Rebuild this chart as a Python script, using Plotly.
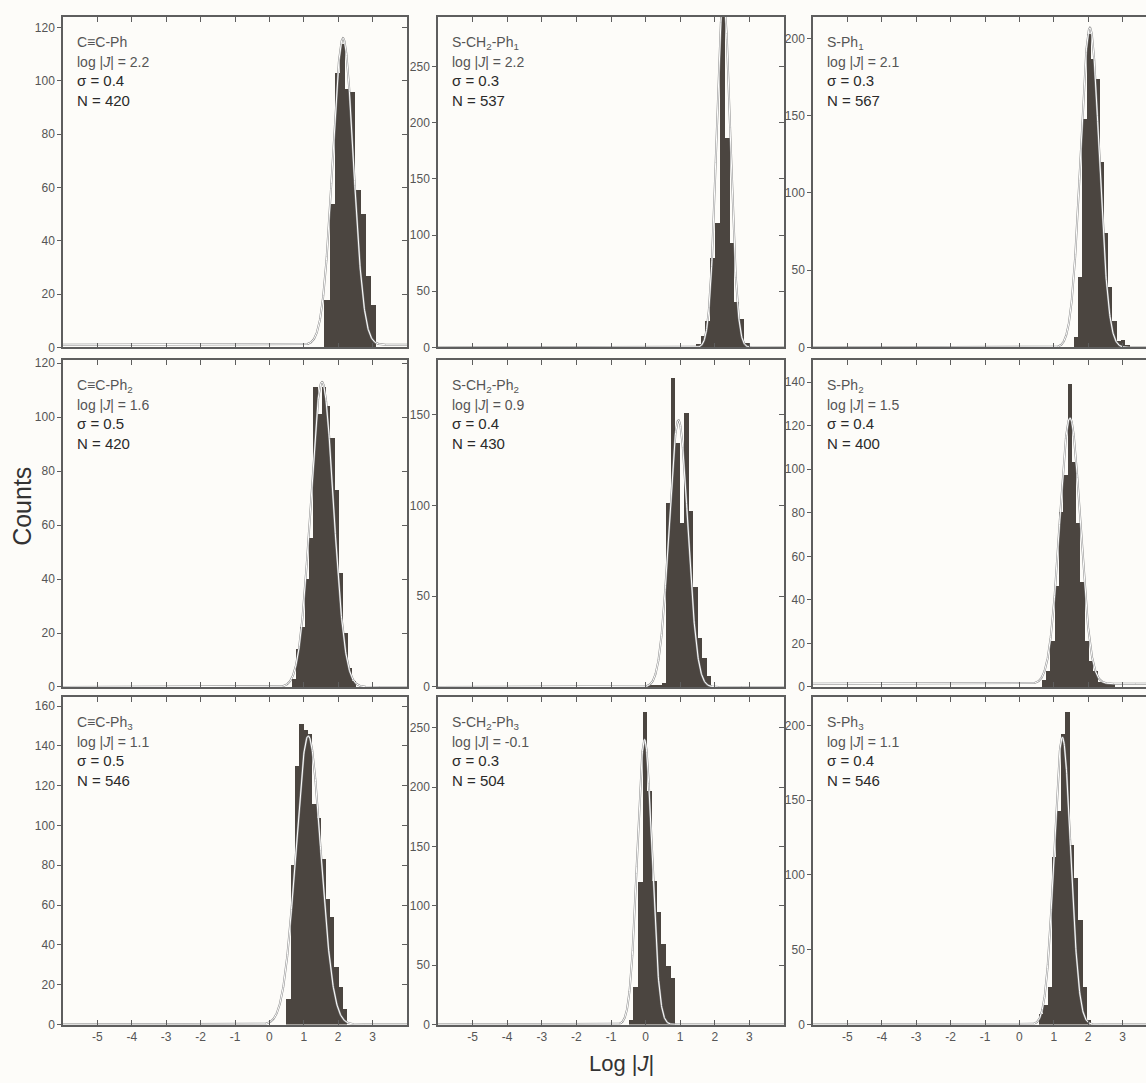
import numpy as np
import plotly.graph_objects as go

# ---------------- data ----------------
x_tick_vals = [-5, -4, -3, -2, -1, 0, 1, 2, 3]
x_tick_text = ["-5", "-4", "-3", "-2", "-1", "0", "1", "2", "3"]

panel_labels = ["C≡C-Ph", "S-CH<sub>2</sub>-Ph<sub>1</sub>", "S-Ph<sub>1</sub>",
                "C≡C-Ph<sub>2</sub>", "S-CH<sub>2</sub>-Ph<sub>2</sub>", "S-Ph<sub>2</sub>",
                "C≡C-Ph<sub>3</sub>", "S-CH<sub>2</sub>-Ph<sub>3</sub>", "S-Ph<sub>3</sub>"]
log_j = ["2.2", "2.2", "2.1", "1.6", "0.9", "1.5", "1.1", "-0.1", "1.1"]
sigma = ["0.4", "0.3", "0.3", "0.5", "0.4", "0.4", "0.5", "0.3", "0.4"]
n_mol = ["420", "537", "567", "420", "430", "400", "546", "504", "546"]

# histogram bins: left edge of first bin, bin width, counts
bin_start = [1.60, 1.447, 1.58, 0.65, 0.08, 0.65, 0.49, -0.49, 0.57]
bin_width = [0.15, 0.14, 0.125, 0.125, 0.13, 0.125, 0.127, 0.135, 0.127]
counts_1 = [18, 54, 103, 114, 97, 96, 59, 50, 27, 16]
counts_2 = [3, 10, 24, 80, 111, 310, 186, 93, 41, 25, 4]
counts_3 = [7, 46, 148, 203, 187, 174, 120, 74, 39, 17, 4, 5, 2]
counts_4 = [3, 14, 22, 40, 55, 111, 101, 111, 104, 92, 73, 42, 20, 7, 2]
counts_5 = [1, 1, 1, 2, 101, 170, 134, 90, 151, 97, 55, 27, 16, 6]
counts_6 = [3, 7, 21, 46, 80, 97, 139, 103, 75, 48, 21, 12, 7, 2, 2, 1, 1]
counts_7 = [13, 80, 130, 151, 148, 146, 111, 104, 83, 63, 54, 29, 19, 8]
counts_8 = [4, 32, 120, 263, 197, 121, 95, 68, 49, 39]
counts_9 = [7, 13, 25, 112, 143, 194, 209, 120, 98, 70, 25, 3]
all_counts = [counts_1, counts_2, counts_3, counts_4, counts_5,
              counts_6, counts_7, counts_8, counts_9]

# Gaussian fit curves
fit_center = [2.14, 2.25, 2.05, 1.53, 0.95, 1.47, 1.13, -0.03, 1.25]
fit_width = [0.30, 0.20, 0.27, 0.33, 0.27, 0.30, 0.36, 0.21, 0.24]
fit_height = [115, 310, 207, 113, 147, 122, 145, 240, 192]
fit_base = [1.0, 0, 0, 0, 0, 1.5, 0, 0, 0]

y_max = [124, 294, 214, 121, 180, 150, 164.6, 276, 219]
y_dtick = [20, 50, 50, 20, 50, 20, 20, 50, 50]

# ---------------- style ----------------
W, H = 1146, 1083
BAR = "#4b4540"
AX = "#5e5e5e"
TXT = "#555555"
FONT = "Arial, Liberation Sans, sans-serif"
BG = "#fdfcf9"

col_px = [(63, 407), (438, 784), (813, 1146)]
row_px = [(13, 347), (360, 690), (700, 1031)]
col_dom = [[a / W, b / W] for a, b in col_px]
row_dom = [[1 - b / H, 1 - a / H] for a, b in row_px]

fig = go.Figure()
layout = dict(width=W, height=H, margin=dict(l=0, r=0, t=0, b=0),
              paper_bgcolor=BG, plot_bgcolor=BG, showlegend=False,
              font=dict(family=FONT, color=TXT, size=12), bargap=0)
annotations = []
xg = np.linspace(-6, 4, 1201)
extra = 10
px_per_unit = (col_px[0][1] - col_px[0][0]) / 10.0

for i in range(9):
    r, c = divmod(i, 3)
    xs = "x" if i == 0 else f"x{i + 1}"
    ys = "y" if i == 0 else f"y{i + 1}"
    cnt = np.array(all_counts[i], dtype=float)
    centers = bin_start[i] + bin_width[i] * (np.arange(len(cnt)) + 0.5)
    fig.add_trace(go.Bar(x=centers, y=cnt, width=bin_width[i],
                         marker=dict(color=BAR, line=dict(width=0)),
                         xaxis=xs, yaxis=ys, hoverinfo="skip"))
    yfit = fit_base[i] + fit_height[i] * np.exp(-0.5 * ((xg - fit_center[i]) / fit_width[i]) ** 2)
    fig.add_trace(go.Scatter(x=xg, y=yfit, mode="lines",
                             line=dict(color="#8a8a8a", width=2.0),
                             xaxis=xs, yaxis=ys, hoverinfo="skip"))
    fig.add_trace(go.Scatter(x=xg, y=yfit, mode="lines",
                             line=dict(color="#ffffff", width=1.0),
                             xaxis=xs, yaxis=ys, hoverinfo="skip"))

    xr = [-6, 4] if c < 2 else [-6, -6 + (col_px[2][1] - col_px[2][0]) / px_per_unit]
    xk = "xaxis" if i == 0 else f"xaxis{i + 1}"
    yk = "yaxis" if i == 0 else f"yaxis{i + 1}"
    layout[xk] = dict(domain=col_dom[c], anchor=ys, range=xr,
                      tickmode="array", tickvals=x_tick_vals,
                      ticktext=x_tick_text,
                      showticklabels=(r == 2),
                      ticks="inside", ticklen=5, tickwidth=1, tickcolor=AX,
                      showline=True, linecolor=AX, linewidth=1.5, mirror="ticks",
                      showgrid=False, zeroline=False,
                      tickfont=dict(size=12, color=TXT, family=FONT))
    layout[yk] = dict(domain=row_dom[r], anchor=xs, range=[0, y_max[i]],
                      dtick=y_dtick[i], tick0=0,
                      ticks="outside", ticklen=4, tickwidth=1, tickcolor=AX,
                      showline=True, linecolor=AX, linewidth=1.5,
                      showgrid=False, zeroline=False,
                      tickfont=dict(size=12, color=TXT, family=FONT))
    if c < 2:
        yo = f"y{extra}"
        layout[f"yaxis{extra}"] = dict(overlaying=ys, anchor=xs, side="right",
                                       range=[0, y_max[i]], dtick=y_dtick[i], tick0=0,
                                       ticks="inside", ticklen=5, tickwidth=1, tickcolor=AX,
                                       showticklabels=False, showline=True,
                                       linecolor=AX, linewidth=1.5,
                                       showgrid=False, zeroline=False)
        fig.add_trace(go.Scatter(x=[0], y=[0], mode="markers", marker=dict(opacity=0),
                                 xaxis=xs, yaxis=yo, hoverinfo="skip"))
        extra += 1

    txt = (f"<span style='font-size:14px;color:#555555'>{panel_labels[i]}</span><br>"
           f"<span style='font-size:14px;color:#555555'>log |<i>J</i>| = {log_j[i]}</span><br>"
           f"σ = {sigma[i]}<br>N = {n_mol[i]}")
    annotations.append(dict(text=txt, xref=f"{xs} domain", yref=f"{ys} domain",
                            x=0.036, y=0.955, xanchor="left", yanchor="top",
                            align="left", showarrow=False,
                            font=dict(size=15, color="#2a2a2a", family=FONT)))

annotations.append(dict(text="Counts", xref="paper", yref="paper",
                        x=22 / W, y=1 - 508 / H, textangle=-90, showarrow=False,
                        xanchor="center", yanchor="middle",
                        font=dict(size=25, color="#333333", family=FONT)))
annotations.append(dict(text="Log |<i>J</i>|", xref="paper", yref="paper",
                        x=621 / W, y=1 - 1070 / H, showarrow=False,
                        xanchor="center", yanchor="middle",
                        font=dict(size=22, color="#333333", family=FONT)))
layout["annotations"] = annotations
fig.update_layout(**layout)

fig.write_html("out.html", config={"displayModeBar": False},
               post_script="document.body.style.margin='0';document.body.style.overflow='hidden';")
